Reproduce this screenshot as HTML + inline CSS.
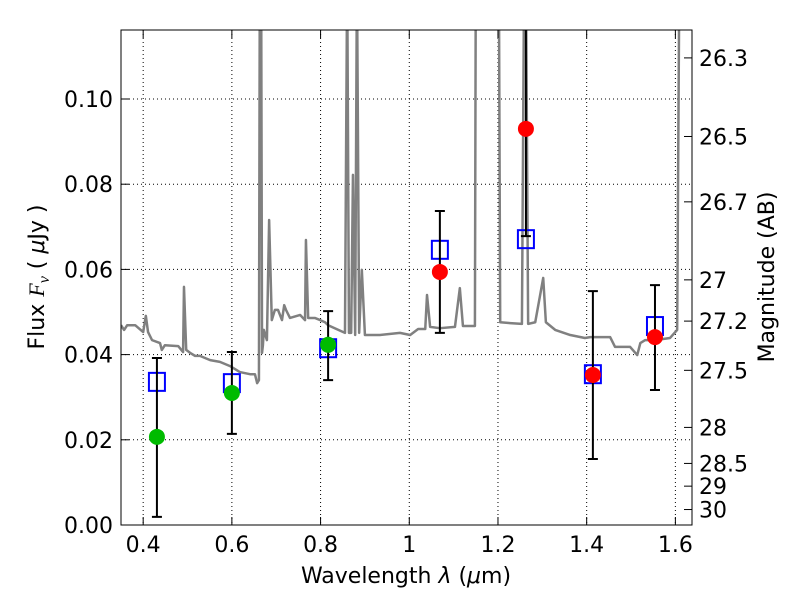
<!DOCTYPE html>
<html><head><meta charset="utf-8"><style>
body{margin:0;background:#fff}
svg{font-family:"DejaVu Sans","Liberation Sans",sans-serif}
</style></head><body>
<svg id="c" width="800" height="600" xmlns="http://www.w3.org/2000/svg">
<defs><clipPath id="clip"><rect x="121" y="30" width="571" height="495"/></clipPath></defs>
<rect width="800" height="600" fill="#fff"/>
<g id="grid"></g>
<g id="spec" clip-path="url(#clip)"></g>
<g id="marks" clip-path="url(#clip)"></g>
<rect x="121" y="30" width="571" height="495" fill="none" stroke="#000" stroke-width="1"/>
<g id="axes"></g>
<text x="406" y="583" font-size="22" text-anchor="middle">Wavelength  <tspan font-style="italic">λ</tspan> (<tspan font-style="italic">μ</tspan>m)</text>
<text transform="translate(44,277) rotate(-90)" font-size="22" text-anchor="middle">Flux  <tspan font-family="Liberation Serif" font-style="italic">F</tspan><tspan font-family="Liberation Serif" font-style="italic" font-size="16" dy="5">ν</tspan><tspan dy="-5">  (  </tspan><tspan font-style="italic">μ</tspan>Jy )</text>
<text transform="translate(774,277) rotate(-90)" font-size="22" text-anchor="middle">Magnitude (AB)</text>
</svg>
<script>
const xTicks=[0.4,0.6,0.8,1,1.2,1.4,1.6];
const xTickLabels=["0.4","0.6","0.8","1","1.2","1.4","1.6"];
const yTicks=[0,0.02,0.04,0.06,0.08,0.10];
const yTickLabels=["0.00","0.02","0.04","0.06","0.08","0.10"];
const magTicks=[26.3,26.5,26.7,27,27.2,27.5,28,28.5,29,30];
const magLabels=["26.3","26.5","26.7","27","27.2","27.5","28","28.5","29","30"];
const specLam=[.350,.357,.364,.382,.400,.406,.411,.420,.438,.442,.449,.479,.490,.492,.497,.506,.517,.528,.551,.573,.596,.618,.641,.652,.657,.661,.663,.666,.668,.670,.672,.679,.684,.690,.697,.704,.713,.718,.722,.731,.754,.765,.767,.772,.787,.799,.810,.817,.855,.860,.864,.869,.873,.878,.882,.887,.893,.900,.934,.979,1.002,1.020,1.036,1.040,1.047,1.069,1.103,1.114,1.121,1.141,1.148,1.150,1.202,1.205,1.227,1.254,1.259,1.263,1.268,1.284,1.302,1.308,1.329,1.363,1.396,1.408,1.453,1.464,1.498,1.514,1.521,1.532,1.554,1.588,1.604,1.609,1.638];
const specFlux=[.0469,.0458,.0469,.0469,.0453,.0491,.0453,.0434,.0427,.0411,.0422,.0420,.0406,.0559,.0411,.0404,.0397,.0397,.0387,.0383,.0373,.0359,.0354,.0354,.0333,.0340,.13,.13,.0404,.0422,.0458,.0434,.0716,.0481,.0505,.0505,.0481,.0516,.0505,.0486,.0493,.0481,.0669,.0486,.0486,.0481,.0476,.0469,.0451,.13,.0451,.0451,.0822,.0446,.13,.0451,.0599,.0446,.0446,.0451,.0446,.0460,.0460,.0540,.0465,.0462,.0465,.0556,.0467,.0467,.0467,.13,.13,.0476,.0474,.0472,.13,.13,.0472,.0476,.0580,.0476,.0458,.0446,.0439,.0441,.0441,.0418,.0418,.0399,.0427,.0434,.0434,.0439,.0458,.13,.13];
const obsLam=[0.431,0.600,0.817,1.069,1.263,1.414,1.554];
const obsFlux=[0.0207,0.0310,0.0423,0.0594,0.0930,0.0352,0.0441];
const obsHi=[0.0392,0.0406,0.0502,0.0737,0.1300,0.0549,0.0563];
const obsLo=[0.0019,0.0214,0.0340,0.0451,0.0678,0.0155,0.0317];
const obsColor=["#00bb00","#00bb00","#00bb00","#ff0000","#ff0000","#ff0000","#ff0000"];
const modelFlux=[0.0336,0.0333,0.0415,0.0646,0.0671,0.0354,0.0467];
const X=l=>121+(l-0.35)*443.5, Y=f=>525-f*4260;
const NS="http://www.w3.org/2000/svg";
function mk(p,tag,a){const e=document.createElementNS(NS,tag);for(const k in a)e.setAttribute(k,a[k]);p.appendChild(e);return e;}
const grid=document.getElementById('grid'),axes=document.getElementById('axes');
xTicks.forEach((t,i)=>{const x=X(t);
 const g=mk(grid,'line',{x1:x,x2:x,y1:30,y2:525,stroke:'#000','stroke-dasharray':'1,3','stroke-width':1});
 
 mk(axes,'line',{x1:x,x2:x,y1:525,y2:517,stroke:'#000'});mk(axes,'line',{x1:x,x2:x,y1:30,y2:38,stroke:'#000'});
 const tx=mk(axes,'text',{x:x,y:552,'font-size':22,'text-anchor':'middle'});tx.textContent=xTickLabels[i];
 });
yTicks.forEach((t,i)=>{const y=Y(t);
 if(t>0){const g=mk(grid,'line',{x1:121,x2:692,y1:y,y2:y,stroke:'#000','stroke-dasharray':'1,3','stroke-width':1});
 }
 mk(axes,'line',{x1:121,x2:129,y1:y,y2:y,stroke:'#000'});
 const tx=mk(axes,'text',{x:113,y:y+8,'font-size':22,'text-anchor':'end'});tx.textContent=yTickLabels[i];
 });
magTicks.forEach((m,i)=>{const f=Math.pow(10,(23.9-m)/2.5),y=Y(f);
 mk(axes,'line',{x1:684,x2:692,y1:y,y2:y,stroke:'#000'});
 const tx=mk(axes,'text',{x:699,y:y+8,'font-size':22});tx.textContent=magLabels[i];
 });
const spec=document.getElementById('spec');
const sl=mk(spec,'polyline',{points:specLam.map((l,i)=>X(l)+','+Y(specFlux[i])).join(' '),fill:'none',stroke:'#808080','stroke-width':2.5,'stroke-linejoin':'round'});

const marks=document.getElementById('marks');
obsLam.forEach((l,i)=>{const x=X(l);
 const s=mk(marks,'rect',{x:x-8,y:Y(modelFlux[i])-9,width:16,height:18,fill:'none',stroke:'#0000ff','stroke-width':2});
 
 const e=mk(marks,'path',{d:`M${x},${Y(obsHi[i])}V${Y(obsLo[i])}M${x-5},${Y(obsHi[i])}h10M${x-5},${Y(obsLo[i])}h10`,stroke:'#000','stroke-width':2,fill:'none'});
 
 const c=mk(marks,'circle',{cx:x,cy:Y(obsFlux[i]),r:8,fill:obsColor[i]});
 });
</script>
</body></html>
